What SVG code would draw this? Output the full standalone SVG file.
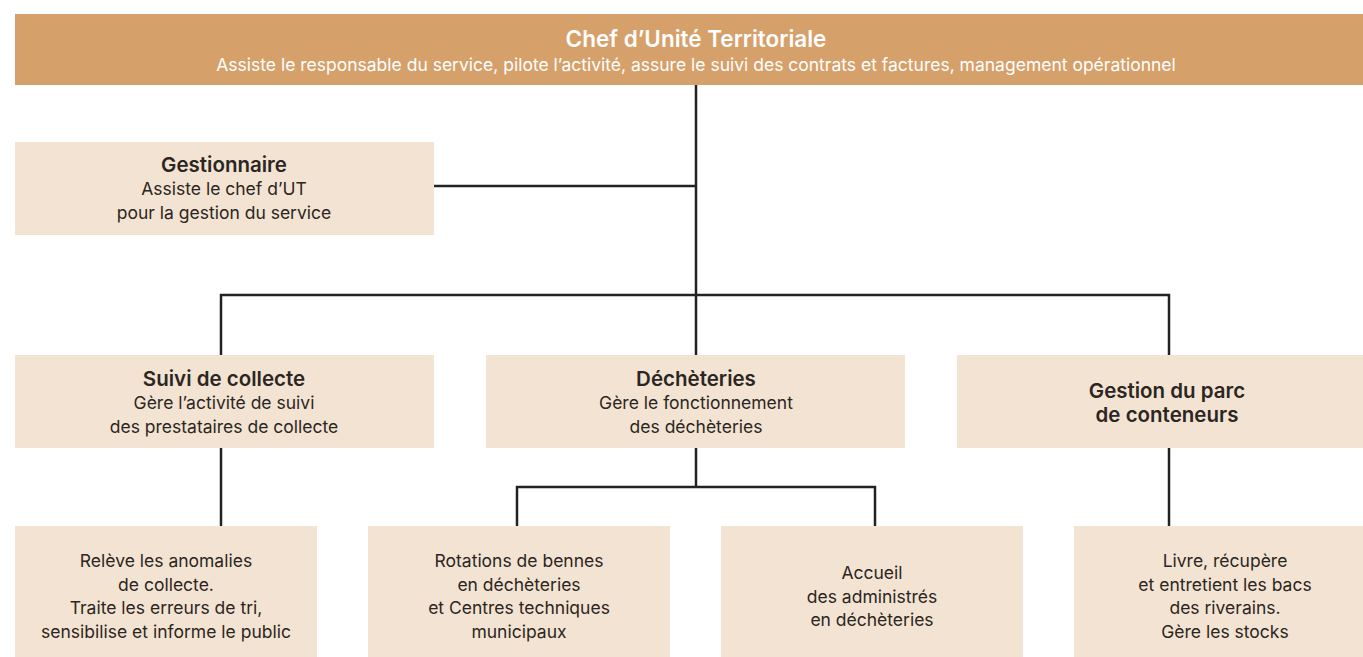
<svg xmlns="http://www.w3.org/2000/svg" width="1363" height="657" viewBox="0 0 1363 657">
<style>
.box{fill:#f3e3d2}
.top{fill:#d6a06a}
text{font-family:Inter,Roboto,"Liberation Sans",sans-serif;text-anchor:middle;fill:#2b2622}
.t{font-size:20.5px;font-weight:600}
.b{font-size:17.5px}
.w{fill:#ffffff}
.ln{fill:none;stroke:#222222;stroke-width:2.5}
</style>
<rect width="1363" height="657" fill="#ffffff"/>
<g id="connectors" class="ln">
<path d="M696 85V355"/>
<path d="M434 186H696"/>
<path d="M221 355V295H1169V355"/>
<path d="M221 448V526"/>
<path d="M696 448V487"/>
<path d="M517 526V487H875V526"/>
<path d="M1169 448V526"/>
</g>
<g id="chef">
<rect class="top" x="15" y="14" width="1362" height="71"/>
<text class="w" x="696" y="47" style="font-size:22.5px;font-weight:600">Chef d’Unité Territoriale</text>
<text class="w" x="696" y="71" style="font-size:17.5px">Assiste le responsable du service, pilote l’activité, assure le suivi des contrats et factures, management opérationnel</text>
</g>
<g id="gestionnaire">
<rect class="box" x="15" y="142" width="419" height="93"/>
<text class="t" x="224" y="172">Gestionnaire</text>
<text class="b" x="224" y="195">Assiste le chef d’UT</text>
<text class="b" x="224" y="219">pour la gestion du service</text>
</g>
<g id="suivi">
<rect class="box" x="15" y="355" width="419" height="93"/>
<text class="t" x="224" y="386">Suivi de collecte</text>
<text class="b" x="224" y="409">Gère l’activité de suivi</text>
<text class="b" x="224" y="433">des prestataires de collecte</text>
</g>
<g id="decheteries">
<rect class="box" x="486" y="355" width="419" height="93"/>
<text class="t" x="696" y="386">Déchèteries</text>
<text class="b" x="696" y="409">Gère le fonctionnement</text>
<text class="b" x="696" y="433">des déchèteries</text>
</g>
<g id="parc">
<rect class="box" x="957" y="355" width="419" height="93"/>
<text class="t" x="1167" y="398">Gestion du parc</text>
<text class="t" x="1167" y="422">de conteneurs</text>
</g>
<g id="anomalies">
<rect class="box" x="15" y="526" width="302" height="140"/>
<text class="b" x="166" y="567">Relève les anomalies</text>
<text class="b" x="166" y="591">de collecte.</text>
<text class="b" x="166" y="614">Traite les erreurs de tri,</text>
<text class="b" x="166" y="638">sensibilise et informe le public</text>
</g>
<g id="rotations">
<rect class="box" x="368" y="526" width="302" height="140"/>
<text class="b" x="519" y="567">Rotations de bennes</text>
<text class="b" x="519" y="591">en déchèteries</text>
<text class="b" x="519" y="614">et Centres techniques</text>
<text class="b" x="519" y="638">municipaux</text>
</g>
<g id="accueil">
<rect class="box" x="721" y="526" width="302" height="140"/>
<text class="b" x="872" y="579">Accueil</text>
<text class="b" x="872" y="603">des administrés</text>
<text class="b" x="872" y="626">en déchèteries</text>
</g>
<g id="livre">
<rect class="box" x="1074" y="526" width="302" height="140"/>
<text class="b" x="1225" y="567">Livre, récupère</text>
<text class="b" x="1225" y="591">et entretient les bacs</text>
<text class="b" x="1225" y="614">des riverains.</text>
<text class="b" x="1225" y="638">Gère les stocks</text>
</g>
</svg>
